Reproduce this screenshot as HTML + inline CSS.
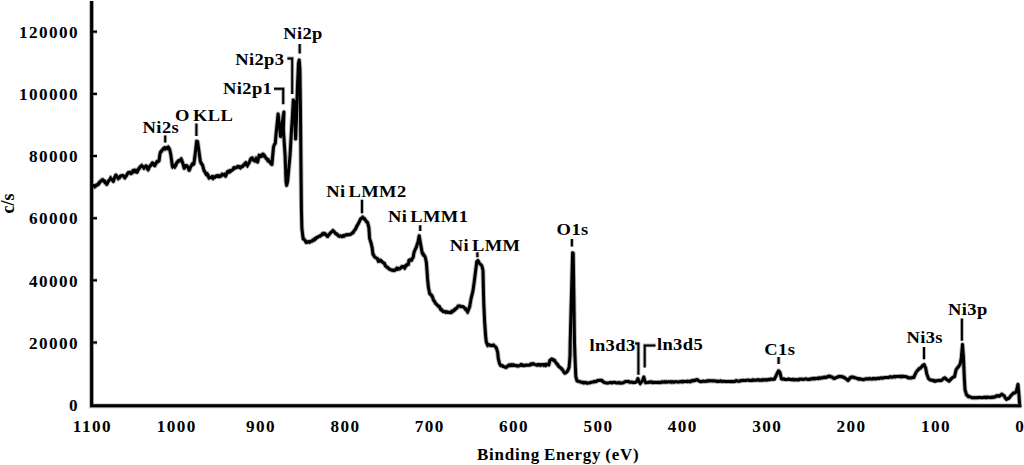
<!DOCTYPE html>
<html><head><meta charset="utf-8"><title>XPS spectrum</title>
<style>
html,body{margin:0;padding:0;background:#fff;overflow:hidden}
svg{display:block}
text{font-family:"Liberation Serif","Times New Roman",serif;font-weight:bold;font-size:18px;fill:#000}
text.y{font-size:18px;letter-spacing:0px}
text.n{font-size:16.5px;letter-spacing:1.37px}
text.a{font-size:17px;letter-spacing:0.35px;word-spacing:-1.8px}
text.t{font-size:17px;letter-spacing:0.75px;word-spacing:-1px}
</style></head><body>
<svg width="1024" height="465" viewBox="0 0 1024 465">
<g opacity="0.3" transform="translate(0,0)">
<path d="M91.6 1 V405.8 H1021.5" fill="none" stroke="#000" stroke-width="4.80"/>
<line x1="91.6" y1="342.5" x2="97" y2="342.5" stroke="#000" stroke-width="3.80"/>
<line x1="91.6" y1="280.3" x2="97" y2="280.3" stroke="#000" stroke-width="3.80"/>
<line x1="91.6" y1="218.2" x2="97" y2="218.2" stroke="#000" stroke-width="3.80"/>
<line x1="91.6" y1="156.0" x2="97" y2="156.0" stroke="#000" stroke-width="3.80"/>
<line x1="91.6" y1="93.9" x2="97" y2="93.9" stroke="#000" stroke-width="3.80"/>
<line x1="91.6" y1="31.7" x2="97" y2="31.7" stroke="#000" stroke-width="3.80"/>
<path d="M165.2 135.4 V142.5 M196.4 123.6 V136 M274 88.8 H283.2 V104.2 M287.4 58.4 H292.2 V93.9 M299.7 44 V53.5 M362 199.7 V213.2 M420.2 225.3 V231.1 M477.4 252.3 V257.3 M571.9 238.9 V246.6 M635.2 343.6 H638.4 V374.7 M644.7 367.4 V345.4 H655.5 M778.6 356.9 V364 M924 347 V359.3 M961.9 318.5 V340.7" fill="none" stroke="#000" stroke-width="3.80"/>
<path d="M92.8 185.7 L94.2 185.6 L95.5 186.2 L96.6 184.8 L97.7 185.0 L98.8 184.0 L99.6 181.9 L100.4 181.4 L101.5 181.1 L102.5 180.4 L103.6 180.3 L104.4 180.9 L105.2 183.0 L106.3 183.0 L107.4 183.0 L108.5 180.7 L109.5 180.0 L110.6 178.7 L111.9 179.3 L113.3 181.4 L114.7 177.5 L116.0 175.0 L117.0 176.5 L118.1 178.2 L119.2 178.1 L120.2 176.2 L121.3 175.7 L122.4 175.5 L123.8 176.3 L125.1 176.6 L126.2 176.1 L127.2 174.2 L128.3 172.8 L129.7 172.9 L131.0 173.3 L132.1 173.1 L133.1 170.4 L134.2 170.1 L135.6 171.8 L136.9 172.3 L138.2 169.5 L139.6 167.4 L140.7 166.2 L141.8 166.3 L142.9 166.5 L143.9 168.0 L145.2 166.8 L146.6 166.3 L147.4 168.5 L148.2 169.6 L149.3 167.1 L150.4 165.8 L151.7 164.6 L153.0 163.1 L153.8 164.7 L154.7 165.8 L155.8 163.7 L156.8 162.0 L157.9 161.6 L159.0 161.0 L160.0 153.5 L160.8 151.7 L161.6 151.5 L162.4 149.7 L163.2 149.5 L163.8 148.2 L164.5 148.0 L165.2 148.2 L166.0 147.8 L166.8 147.7 L167.5 147.8 L168.3 147.3 L169.0 148.1 L169.7 149.6 L170.8 154.7 L171.8 162.3 L172.4 166.6 L173.2 166.5 L174.0 166.0 L174.8 165.9 L175.6 166.0 L176.7 162.8 L177.8 161.3 L178.8 160.6 L179.6 161.1 L180.4 160.6 L181.5 159.6 L182.6 162.8 L184.2 168.2 L185.0 167.2 L185.8 165.5 L186.9 165.8 L188.0 167.1 L189.0 170.3 L189.8 168.8 L190.6 167.1 L191.4 165.5 L192.3 163.9 L193.1 164.6 L193.9 163.9 L195.5 151.5 L196.6 141.2 L197.6 141.7 L198.7 149.4 L200.3 161.2 L201.4 163.5 L202.5 165.0 L204.1 170.9 L204.9 171.8 L205.7 173.5 L206.5 174.7 L207.3 174.1 L208.1 175.0 L208.9 177.3 L210.2 177.4 L211.6 177.8 L212.7 178.1 L213.7 176.8 L214.8 177.3 L215.9 176.5 L217.0 175.7 L218.1 175.4 L219.1 176.8 L220.4 176.3 L221.8 175.2 L223.2 175.1 L224.5 174.1 L225.6 176.2 L226.6 173.9 L227.7 171.4 L228.8 172.3 L229.9 171.9 L230.9 170.8 L232.0 170.3 L233.1 169.6 L234.2 168.2 L235.2 168.1 L236.3 167.6 L237.8 167.1 L239.3 166.4 L240.4 166.6 L241.5 166.9 L242.6 166.5 L243.6 164.8 L244.7 165.1 L245.8 163.7 L246.6 164.5 L247.4 165.3 L248.4 163.7 L249.5 161.6 L250.8 158.9 L252.2 157.8 L253.0 159.5 L253.8 160.5 L254.9 160.0 L256.0 158.9 L256.8 161.4 L257.6 162.1 L259.2 155.1 L260.2 156.2 L261.3 156.2 L262.1 154.7 L263.0 154.0 L264.1 155.1 L265.1 156.7 L266.2 158.4 L267.3 159.4 L268.1 159.3 L268.9 161.0 L269.7 161.7 L270.5 162.6 L271.2 163.0 L271.9 164.5 L273.5 147.0 L274.4 144.5 L275.3 143.3 L275.9 135.8 L277.0 125.0 L278.1 114.0 L279.3 125.0 L280.6 136.6 L282.3 122.0 L283.9 112.1 L283.6 122.0 L283.4 130.0 L285.1 155.7 L286.0 181.5 L286.6 185.5 L287.6 181.5 L290.0 155.7 L291.5 130.0 L292.5 115.0 L293.3 100.0 L294.0 101.0 L294.6 115.0 L295.2 130.0 L295.6 139.0 L296.5 118.0 L297.5 85.0 L298.5 63.0 L299.2 60.0 L299.9 69.0 L300.4 105.0 L300.9 160.0 L301.4 210.0 L301.9 228.7 L303.2 239.0 L304.5 239.7 L305.8 241.6 L307.1 242.2 L308.4 241.5 L309.7 242.2 L310.8 241.2 L311.8 240.8 L312.9 240.3 L314.2 240.2 L315.5 239.0 L316.6 237.5 L317.6 237.2 L318.7 236.4 L320.0 235.8 L321.3 235.1 L322.6 234.7 L323.9 233.2 L324.9 234.3 L325.8 234.5 L326.8 236.0 L327.7 236.4 L328.7 234.8 L329.7 233.8 L330.6 232.7 L331.6 231.9 L332.9 230.6 L333.9 231.4 L334.8 232.5 L335.8 233.7 L336.8 233.8 L338.1 235.7 L339.4 236.4 L340.6 235.9 L341.9 236.4 L343.2 235.5 L344.5 235.5 L345.8 234.9 L347.1 235.1 L348.2 234.5 L349.2 234.7 L350.3 234.5 L351.6 233.6 L352.9 232.5 L354.2 230.6 L355.5 229.3 L356.8 226.1 L358.1 224.2 L359.4 221.5 L360.6 219.0 L361.6 218.2 L362.6 217.7 L363.9 218.8 L365.2 219.7 L366.4 221.7 L367.6 222.5 L368.9 227.9 L369.6 238.5 L371.2 243.5 L372.1 247.5 L372.9 254.0 L373.9 255.8 L374.8 257.0 L376.2 257.9 L377.6 258.8 L378.3 261.3 L379.4 260.8 L380.4 260.0 L381.7 261.5 L383.0 262.6 L384.3 263.4 L385.5 266.1 L386.8 267.0 L388.1 268.2 L389.3 269.2 L390.6 269.5 L391.8 270.3 L393.0 270.1 L394.2 270.6 L395.4 269.5 L396.6 268.6 L398.1 268.2 L399.6 269.0 L400.8 267.9 L401.9 266.5 L403.3 266.6 L404.7 268.0 L405.6 265.6 L407.0 264.5 L408.4 264.6 L408.9 260.3 L410.3 259.7 L411.7 260.0 L412.4 258.2 L413.2 257.3 L413.9 252.8 L415.0 249.9 L416.2 247.5 L418.1 241.5 L419.2 235.8 L420.7 244.5 L422.2 253.0 L423.1 253.6 L424.0 255.5 L424.6 255.8 L425.3 257.5 L426.4 262.6 L427.1 272.0 L427.5 278.2 L428.4 287.3 L429.7 293.7 L431.0 294.5 L432.3 296.3 L433.5 300.2 L434.5 301.2 L435.5 303.4 L436.8 304.5 L438.1 306.0 L439.1 306.3 L440.0 307.9 L440.6 309.4 L441.3 309.8 L442.6 311.0 L443.9 311.8 L445.0 311.5 L446.0 311.9 L447.1 312.4 L448.4 312.2 L449.7 312.2 L451.0 312.4 L452.2 310.9 L453.5 310.5 L454.8 310.0 L456.1 308.5 L457.1 307.9 L458.1 306.0 L459.1 306.0 L460.0 306.0 L460.9 306.3 L461.9 306.6 L463.2 306.7 L464.5 307.9 L465.6 308.6 L466.6 310.3 L467.7 311.8 L469.7 306.6 L471.0 298.9 L472.9 291.1 L474.2 282.1 L475.5 271.8 L476.8 261.5 L477.5 260.8 L478.1 260.8 L479.1 262.9 L480.0 264.0 L480.9 264.5 L481.9 266.0 L483.0 270.5 L483.2 280.8 L483.5 293.7 L483.9 306.6 L484.7 322.9 L485.6 335.8 L486.3 342.0 L487.5 345.0 L488.8 344.4 L490.0 345.2 L491.5 345.7 L493.0 345.0 L494.0 345.8 L495.0 346.5 L495.8 347.0 L496.5 348.5 L497.6 352.0 L498.3 358.5 L499.5 363.5 L500.3 364.7 L501.1 365.7 L502.1 365.4 L503.0 366.5 L504.5 366.8 L506.0 367.0 L506.9 367.0 L507.9 365.7 L508.9 365.8 L509.8 364.8 L511.1 365.3 L512.4 364.9 L513.7 365.5 L515.0 365.5 L516.3 365.4 L517.6 366.1 L518.9 366.0 L520.2 365.3 L521.5 364.8 L522.8 365.6 L524.0 365.7 L525.3 365.3 L526.6 365.0 L527.9 365.2 L529.2 365.2 L530.5 365.0 L531.8 364.4 L533.1 363.5 L534.4 364.4 L535.6 364.8 L536.9 364.8 L538.2 365.1 L539.5 364.4 L540.8 364.8 L542.1 364.8 L543.4 364.6 L544.7 364.8 L546.1 364.2 L547.4 364.3 L548.8 365.0 L549.8 360.5 L551.0 359.5 L552.1 359.2 L553.3 359.6 L554.1 360.1 L555.0 361.2 L556.3 363.3 L557.6 364.8 L558.9 366.7 L560.2 367.4 L561.5 368.7 L562.7 370.0 L563.8 372.0 L564.8 373.2 L566.1 372.7 L567.4 371.3 L568.2 369.8 L569.1 367.4 L570.0 355.8 L570.2 342.9 L570.8 320.0 L571.6 290.0 L572.6 252.8 L573.2 253.2 L573.9 300.0 L574.5 342.9 L575.2 362.3 L575.8 376.5 L577.1 381.0 L578.4 381.3 L579.7 381.6 L581.0 382.3 L582.3 382.2 L583.5 382.3 L584.8 382.5 L586.1 382.9 L587.4 382.9 L588.7 383.0 L590.0 382.8 L591.3 382.3 L592.6 382.0 L593.9 382.0 L595.2 381.6 L596.5 381.4 L597.7 380.4 L599.0 380.3 L600.3 380.4 L601.6 380.3 L602.9 381.7 L604.2 382.3 L605.5 382.8 L606.8 382.9 L608.1 382.9 L609.4 382.8 L610.7 382.4 L611.9 382.8 L613.2 382.3 L614.5 382.3 L615.8 382.7 L617.1 383.0 L618.4 382.6 L619.7 382.7 L621.0 382.9 L622.3 383.0 L623.6 382.6 L624.8 381.8 L626.1 381.5 L627.4 381.6 L628.5 381.4 L629.6 382.3 L630.7 382.3 L631.8 381.9 L632.9 382.6 L634.0 382.5 L635.3 382.4 L636.6 381.5 L637.9 378.6 L639.0 381.8 L640.2 383.4 L641.4 382.1 L642.6 380.5 L643.8 377.0 L644.8 380.8 L645.6 382.8 L646.7 382.5 L647.8 382.6 L648.9 382.1 L650.0 382.3 L651.2 381.9 L652.5 382.7 L653.8 382.4 L655.0 382.3 L656.2 382.6 L657.5 382.2 L658.8 382.5 L660.0 382.2 L661.2 382.5 L662.5 381.9 L663.8 381.9 L665.0 381.9 L666.2 381.8 L667.5 382.1 L668.8 381.8 L670.0 382.0 L671.2 381.9 L672.5 381.6 L673.8 382.3 L675.0 381.7 L676.2 381.8 L677.5 381.9 L678.8 382.1 L680.0 381.7 L681.2 381.6 L682.5 382.0 L683.8 381.6 L685.0 381.6 L686.2 381.6 L687.5 381.1 L688.8 381.5 L690.0 381.5 L691.2 380.9 L692.5 380.4 L693.7 380.8 L694.9 379.9 L696.2 379.9 L697.4 379.6 L698.7 380.8 L700.0 381.5 L701.2 381.5 L702.5 381.2 L703.7 381.3 L705.0 381.3 L706.2 381.4 L707.5 380.8 L708.7 381.1 L710.0 380.8 L711.2 380.7 L712.5 381.1 L713.7 380.8 L714.9 380.9 L716.2 381.0 L717.4 381.2 L718.6 381.4 L719.9 381.1 L721.1 381.3 L722.4 381.3 L723.6 381.3 L724.8 381.5 L726.1 381.4 L727.3 381.5 L728.5 381.5 L729.8 381.4 L731.0 381.7 L732.3 381.4 L733.5 381.5 L734.8 381.5 L736.0 380.8 L737.3 381.0 L738.5 381.3 L739.8 381.2 L741.0 380.8 L742.2 380.4 L743.5 380.3 L744.7 380.6 L746.0 380.2 L747.2 380.2 L748.5 380.0 L749.7 380.5 L751.0 380.5 L752.2 380.6 L753.5 379.9 L754.7 380.1 L755.9 380.2 L757.2 380.2 L758.4 379.6 L759.7 380.3 L760.9 380.3 L762.2 379.6 L763.4 380.2 L764.7 379.6 L765.9 379.7 L767.2 380.1 L768.4 379.6 L769.6 379.8 L770.8 379.1 L772.1 379.3 L773.3 379.3 L774.5 379.2 L775.5 376.8 L776.6 374.6 L777.6 372.4 L778.6 370.8 L779.3 371.5 L780.0 372.6 L781.4 378.8 L782.5 379.2 L783.7 378.8 L784.8 379.4 L786.0 379.5 L787.2 379.4 L788.4 379.0 L789.6 379.3 L790.9 379.6 L792.1 379.5 L793.3 379.2 L794.5 380.0 L795.7 379.6 L796.9 379.8 L798.2 379.9 L799.4 379.1 L800.7 379.2 L801.9 379.0 L803.2 379.6 L804.4 379.1 L805.7 378.9 L806.9 379.1 L808.2 379.5 L809.4 379.1 L810.6 379.3 L811.9 378.6 L813.1 378.4 L814.3 379.0 L815.6 378.6 L816.8 378.6 L818.1 377.9 L819.3 377.8 L820.5 378.2 L821.8 377.9 L823.0 377.8 L824.2 377.1 L825.3 377.7 L826.5 377.1 L827.7 377.0 L828.8 376.1 L830.0 376.2 L831.1 377.1 L832.2 377.0 L833.3 378.3 L834.4 378.5 L835.5 377.9 L836.7 377.2 L837.9 376.8 L839.0 376.2 L840.1 376.8 L841.1 376.3 L842.2 376.7 L843.6 377.0 L845.0 378.0 L846.5 379.2 L848.0 380.4 L849.1 379.0 L850.1 377.8 L851.2 377.0 L852.4 377.0 L853.7 377.2 L854.9 377.7 L856.2 378.1 L857.4 378.6 L858.5 378.6 L859.6 379.2 L860.7 379.0 L861.8 379.4 L862.9 379.6 L864.1 379.2 L865.2 379.2 L866.4 378.8 L867.6 378.9 L868.7 378.6 L869.9 378.9 L871.1 379.1 L872.2 378.8 L873.4 378.5 L874.6 378.7 L875.7 379.0 L876.9 378.6 L878.1 378.1 L879.2 378.6 L880.4 378.1 L881.6 378.1 L882.7 378.2 L883.9 377.8 L885.1 377.5 L886.2 377.5 L887.4 377.5 L888.6 377.6 L889.7 376.8 L890.9 376.8 L892.1 377.1 L893.2 376.9 L894.4 376.8 L895.6 376.6 L896.7 376.5 L897.9 376.6 L899.1 376.2 L900.2 376.3 L901.4 376.2 L902.6 376.8 L903.7 376.4 L904.9 376.6 L906.0 376.6 L907.0 376.9 L908.0 377.9 L909.1 377.9 L910.3 378.1 L911.5 377.8 L912.7 377.3 L913.9 377.4 L914.6 375.5 L915.3 374.0 L916.1 372.3 L917.0 371.0 L917.8 370.2 L918.5 369.5 L919.5 368.4 L920.5 368.0 L921.4 367.0 L922.3 366.0 L923.2 365.1 L924.1 364.6 L924.9 366.6 L925.6 367.7 L926.8 374.0 L928.5 378.5 L929.8 379.7 L931.0 380.0 L932.1 380.3 L933.3 380.3 L934.5 381.2 L935.6 381.0 L936.7 380.7 L937.8 380.7 L939.0 380.3 L940.1 380.5 L941.2 380.5 L942.4 379.6 L943.5 378.7 L944.7 377.8 L945.8 378.5 L946.8 379.8 L948.0 380.5 L949.2 381.2 L950.7 379.1 L952.2 377.8 L953.4 377.1 L954.5 376.8 L956.0 370.1 L957.1 368.2 L958.3 367.1 L959.2 365.5 L960.2 364.1 L961.3 358.0 L962.5 344.5 L963.5 358.0 L964.3 377.6 L965.0 389.6 L966.5 394.9 L967.6 395.4 L968.8 396.8 L970.1 396.7 L971.3 397.4 L972.6 397.9 L973.8 397.6 L975.1 397.8 L976.3 397.7 L977.5 397.8 L978.8 397.6 L980.0 397.4 L981.3 397.6 L982.5 397.7 L983.8 397.3 L985.1 397.2 L986.3 397.8 L987.6 397.4 L988.8 397.1 L990.0 397.6 L991.2 397.5 L992.4 397.0 L993.6 397.4 L995.1 397.0 L996.6 395.9 L998.1 396.3 L999.6 395.9 L1000.8 395.1 L1001.9 394.1 L1003.0 395.1 L1004.1 395.6 L1005.2 397.8 L1006.4 399.4 L1007.5 398.7 L1008.6 398.6 L1009.8 397.1 L1010.9 395.6 L1012.0 394.5 L1013.2 393.4 L1014.7 393.0 L1016.2 391.9 L1018.0 384.4 L1018.9 394.1 L1019.5 403.2" fill="none" stroke="#000" stroke-width="4.80" stroke-linejoin="round" stroke-linecap="round"/>
<path d="M92.8 185.5 L93.7 186.1 L94.6 188.0 L95.5 186.0 L96.3 185.7 L97.2 185.5 L98.0 183.1 L98.8 184.1 L99.6 183.3 L100.4 182.7 L101.2 179.3 L102.0 179.9 L102.8 178.7 L103.6 181.7 L104.4 182.5 L105.2 180.9 L106.3 185.2 L107.4 185.1 L108.2 182.6 L109.0 181.4 L109.8 178.2 L110.6 176.5 L111.5 179.7 L112.4 178.5 L113.3 180.0 L114.2 178.1 L115.1 175.0 L116.0 174.8 L117.0 176.3 L118.1 179.8 L119.0 177.7 L119.8 177.8 L120.7 176.6 L121.5 176.8 L122.4 175.3 L123.3 174.8 L124.2 178.5 L125.1 178.9 L125.9 177.2 L126.7 175.7 L127.5 172.9 L128.3 171.6 L129.2 172.0 L130.1 171.2 L131.0 174.5 L131.8 172.0 L132.6 173.3 L133.4 170.4 L134.2 172.2 L135.1 172.4 L136.0 169.3 L136.9 171.0 L137.8 172.6 L138.7 168.9 L139.6 169.6 L140.7 166.4 L141.8 164.3 L142.9 167.7 L143.9 169.3 L144.8 166.4 L145.7 165.0 L146.6 165.5 L147.4 170.1 L148.2 170.8 L149.3 165.9 L150.4 164.6 L151.3 163.1 L152.1 162.0 L153.0 164.5 L153.8 163.0 L154.7 166.1 L155.8 163.7 L156.8 160.6 L157.9 162.6 M160.0 151.8 L160.8 153.2 L161.6 149.7 L162.4 150.1 L163.2 148.2 L164.5 146.9 L165.2 150.1 L166.0 149.2 L166.8 146.9 L167.5 149.6 L168.3 146.0 L169.0 148.0 M172.4 168.2 L173.2 167.0 L174.0 164.2 L174.8 168.3 L175.6 164.7 L176.7 161.7 L177.8 163.0 L178.8 159.8 L179.6 159.7 L180.4 158.6 L181.5 157.7 M184.2 168.6 L185.0 165.7 L185.8 166.0 L186.9 165.7 M189.0 170.1 L189.8 170.8 L190.6 167.0 L191.4 165.8 L192.3 165.6 L193.1 162.4 M200.3 163.1 L201.4 164.6 M204.1 169.7 L204.9 170.8 L205.7 174.6 L206.5 175.8 L207.3 172.7 L208.1 177.8 L208.9 179.1 L209.8 177.9 L210.7 177.3 L211.6 176.0 L212.4 175.6 L213.2 179.7 L214.0 176.2 L214.8 178.2 L215.9 175.4 L217.0 177.2 L218.1 176.7 L219.1 175.8 L220.0 174.8 L220.9 176.7 L221.8 173.2 L222.7 173.6 L223.6 174.7 L224.5 175.7 L225.6 176.7 L226.6 172.8 L227.7 173.3 L228.8 170.3 L229.9 169.7 L230.9 170.0 L232.0 170.1 L233.1 167.2 L234.2 166.7 L235.2 167.3 L236.3 167.9 L237.3 165.5 L238.3 166.2 L239.3 168.2 L240.4 168.9 L241.5 167.6 L242.6 166.7 L243.6 165.2 L244.7 162.6 L245.8 161.6 L246.6 162.3 L247.4 167.2 L248.4 164.4 L249.5 163.7 L250.4 158.1 L251.3 159.7 L252.2 157.7 L253.0 160.2 L253.8 159.7 L254.9 162.0 L256.0 156.9 L256.8 160.7 M259.2 156.2 L260.2 157.5 L261.3 157.3 L262.1 156.0 L263.0 155.3 L264.1 157.3 L265.1 156.0 L266.2 158.9 L267.3 161.2 L268.1 161.9 L268.9 160.6 L269.7 163.1 L270.5 164.3 L271.2 163.9 M273.5 147.6 L274.4 144.6 M303.2 239.4 L304.1 238.4 L304.9 241.2 L305.8 243.3 L306.8 243.0 L307.8 242.7 L308.7 241.7 L309.7 243.0 L310.5 242.0 L311.3 241.0 L312.1 241.9 L312.9 238.9 L313.8 240.7 L314.6 237.8 L315.5 239.3 L316.3 238.3 L317.1 236.8 L317.9 237.7 L318.7 236.4 L319.6 236.4 L320.4 237.0 L321.3 234.3 L322.2 232.8 L323.0 233.2 L323.9 233.8 L324.9 232.8 L325.8 233.4 L326.8 236.8 L327.7 236.9 L328.7 234.9 L329.7 235.1 L330.6 232.3 L331.6 232.5 L332.9 229.6 L333.9 231.3 L334.8 233.5 L335.8 234.6 L336.8 235.1 L337.7 234.3 L338.5 235.8 L339.4 235.8 L340.2 235.2 L341.1 236.4 L341.9 237.5 L342.8 237.3 L343.6 236.5 L344.5 237.0 L345.4 234.6 L346.2 234.1 L347.1 234.9 L347.9 234.2 L348.7 233.8 L349.5 234.4 L350.3 234.9 L351.2 233.8 L352.0 232.5 L352.9 233.7 L353.8 233.1 L354.6 230.2 L355.5 227.9 L356.4 226.0 L357.2 227.2 L358.1 222.6 L358.9 223.2 L359.8 221.0 L360.6 218.4 L361.6 219.3 L362.6 216.1 L363.5 217.1 L364.3 218.9 L365.2 218.1 L366.0 221.8 L366.8 220.7 M372.9 252.8 L373.9 254.0 L374.8 257.4 L375.7 257.4 L376.7 258.6 M378.3 261.8 L379.4 261.7 L380.4 261.6 L381.3 261.5 L382.1 260.7 L383.0 262.5 L383.9 262.6 L384.9 263.1 L385.9 265.8 L386.8 267.7 L387.8 266.5 L388.7 267.5 L389.7 268.4 L390.6 270.2 L391.5 269.8 L392.4 270.4 L393.3 271.2 L394.2 270.2 L395.0 270.9 L395.8 270.6 L396.6 267.2 L397.6 270.2 L398.6 269.6 L399.6 267.7 L400.4 268.0 L401.1 267.8 L401.9 267.9 L402.8 266.6 L403.8 267.7 L404.7 269.3 L405.6 266.6 L406.5 266.8 L407.5 264.8 M408.9 260.8 L409.8 259.2 L410.8 260.9 L411.7 261.1 L412.4 259.1 M413.9 253.5 L414.7 250.1 L415.4 250.6 M422.2 254.6 L423.1 255.9 L424.0 255.6 M429.7 294.7 L430.6 294.0 L431.4 296.8 M433.5 301.4 L434.5 301.3 L435.5 302.0 L436.4 304.1 L437.2 305.3 L438.1 306.9 L439.1 306.9 L440.0 306.3 L441.3 310.9 L442.2 309.0 L443.0 312.2 L443.9 310.7 L444.7 311.4 L445.5 313.1 L446.3 311.0 L447.1 311.2 L448.1 312.5 L449.1 313.2 L450.0 313.6 L451.0 313.0 L451.8 313.3 L452.7 311.1 L453.5 312.0 L454.4 308.4 L455.2 308.2 L456.1 308.6 L457.1 306.5 L458.1 306.8 L459.1 306.5 L460.0 306.1 L460.9 307.5 L461.9 306.8 L462.8 306.4 L463.6 307.1 L464.5 309.1 L465.3 310.2 L466.1 308.9 L466.9 312.0 L467.7 313.4 L468.7 309.3 M476.8 261.7 L478.1 259.8 L479.1 262.5 L480.0 264.0 L480.9 265.4 M486.3 340.4 L487.5 346.6 L488.3 345.1 L489.2 344.8 L490.0 346.2 L491.0 345.3 L492.0 345.0 L493.0 345.6 L494.0 344.3 L495.0 346.6 L495.8 347.2 M499.5 365.1 L500.3 366.0 L501.1 364.9 L502.1 366.0 L503.0 365.2 L504.0 366.4 L505.0 367.9 L506.0 368.4 L506.9 366.3 L507.9 365.1 L508.9 364.2 L509.8 365.2 L510.8 366.4 L511.8 363.9 L512.7 366.3 L513.7 363.9 L514.7 364.6 L515.7 364.9 L516.6 366.6 L517.6 365.5 L518.6 365.3 L519.5 365.9 L520.5 363.8 L521.5 365.6 L522.3 363.8 L523.2 365.4 L524.0 364.9 L525.0 364.5 L526.0 365.6 L526.9 365.1 L527.9 364.8 L528.8 364.6 L529.6 364.7 L530.5 363.2 L531.4 363.1 L532.2 364.2 L533.1 364.0 L534.0 363.9 L535.0 365.3 L536.0 364.9 L536.9 366.0 L537.9 363.9 L538.8 365.6 L539.8 365.9 L540.8 366.2 L541.8 364.2 L542.8 364.2 L543.7 366.2 L544.7 363.8 L545.5 366.5 L546.3 366.2 L547.2 363.7 L548.0 364.1 M549.8 361.3 L551.0 358.7 L551.8 358.2 L552.5 360.7 L553.3 359.3 L554.1 361.4 L555.0 359.9 L555.9 362.1 L556.7 364.2 L557.6 363.2 L558.5 364.6 L559.3 367.2 L560.2 368.4 L561.0 369.4 L561.9 368.2 L562.7 370.0 L563.8 372.2 L564.8 373.2 L565.7 373.0 L566.5 371.2 L567.4 370.3 L568.2 368.4 M577.1 381.1 L578.1 381.4 L579.0 381.8 L580.0 381.1 L581.0 381.5 L581.9 381.7 L582.7 383.3 L583.5 383.8 L584.4 383.7 L585.2 381.8 L586.1 381.8 L587.0 383.9 L587.8 382.6 L588.7 383.2 L589.6 382.1 L590.4 382.3 L591.3 382.3 L592.3 382.0 L593.2 382.2 L594.2 380.6 L595.2 382.1 L596.2 382.1 L597.1 380.2 L598.0 380.5 L599.0 380.9 L599.9 380.1 L600.7 379.6 L601.6 379.5 L602.5 381.0 L603.3 380.5 L604.2 383.2 L605.2 383.2 L606.2 383.1 L607.1 383.6 L608.1 383.2 L609.0 382.6 L609.9 383.0 L610.8 382.7 L611.8 383.7 L612.7 383.2 L613.6 381.8 L614.5 383.3 L615.4 383.0 L616.4 383.1 L617.3 383.3 L618.2 382.4 L619.1 383.7 L620.1 383.7 L621.0 383.4 L621.9 383.4 L622.8 383.2 L623.7 382.1 L624.7 382.7 L625.6 380.9 L626.5 381.4 L627.4 381.5 L628.3 380.6 L629.3 381.5 L630.2 382.3 L631.2 382.4 L632.1 381.6 L633.1 383.4 L634.0 382.9 L634.9 381.8 L635.7 382.2 L636.6 381.7 L637.9 378.7 L639.0 381.5 L640.2 384.6 L641.0 382.8 L641.8 381.9 L642.6 381.1 M644.8 382.0 L645.6 381.7 L646.5 383.0 L647.4 383.2 L648.2 381.9 L649.1 382.2 L650.0 381.2 L650.9 381.6 L651.8 382.0 L652.7 381.3 L653.6 381.7 L654.5 383.2 L655.5 382.4 L656.4 382.3 L657.3 383.3 L658.2 382.4 L659.1 383.4 L660.0 382.5 L660.9 382.9 L661.8 381.1 L662.7 382.4 L663.6 382.7 L664.5 381.0 L665.5 383.1 L666.4 381.3 L667.3 382.0 L668.2 381.2 L669.1 382.0 L670.0 382.3 L670.9 380.9 L671.8 383.0 L672.7 381.7 L673.6 382.0 L674.5 382.1 L675.5 381.5 L676.4 381.3 L677.3 382.2 L678.2 381.9 L679.1 381.2 L680.0 382.2 L680.9 381.2 L681.8 380.5 L682.7 381.0 L683.6 380.5 L684.5 380.8 L685.5 382.2 L686.4 381.3 L687.3 382.5 L688.2 382.1 L689.1 380.4 L690.0 382.7 L690.9 382.3 L691.9 380.0 L692.8 381.8 L693.7 380.4 L694.6 380.3 L695.5 381.2 L696.5 379.2 L697.4 379.7 L698.3 381.3 L699.1 381.4 L700.0 381.4 L700.9 382.6 L701.8 382.2 L702.7 381.6 L703.7 380.4 L704.6 381.6 L705.5 381.1 L706.4 380.5 L707.3 380.1 L708.2 381.1 L709.1 380.1 L710.0 380.8 L711.0 381.3 L711.9 380.8 L712.8 380.3 L713.7 381.0 L714.6 380.7 L715.5 381.6 L716.4 381.0 L717.3 382.2 L718.2 382.1 L719.1 381.6 L720.0 380.5 L721.0 380.2 L721.9 382.2 L722.8 381.9 L723.7 381.6 L724.6 381.0 L725.5 380.9 L726.4 381.9 L727.3 381.7 L728.2 381.7 L729.1 381.7 L730.0 382.0 L731.0 380.6 L731.9 380.7 L732.8 382.4 L733.7 382.2 L734.6 382.0 L735.5 380.0 L736.4 380.0 L737.3 380.4 L738.3 380.8 L739.2 381.2 L740.1 379.9 L741.0 380.9 L741.9 379.7 L742.8 379.7 L743.7 381.1 L744.7 380.7 L745.6 380.9 L746.5 380.2 L747.4 380.4 L748.3 379.7 L749.2 380.0 L750.1 380.9 L751.0 381.1 L752.0 379.2 L752.9 379.3 L753.8 380.9 L754.7 380.4 L755.6 380.7 L756.5 379.3 L757.4 379.8 L758.4 379.4 L759.3 380.7 L760.2 379.6 L761.1 380.2 L762.0 381.0 L762.9 379.4 L763.8 379.9 L764.7 380.3 L765.7 380.7 L766.6 379.5 L767.5 379.3 L768.4 378.6 L769.3 380.4 L770.1 378.5 L771.0 378.4 L771.9 379.5 L772.8 379.3 L773.6 379.7 L774.5 378.7 L775.5 377.6 L776.6 373.6 L777.6 372.0 L778.6 371.2 L779.3 370.7 M781.4 378.3 L782.2 379.5 L783.1 379.6 L783.9 378.7 L784.8 378.5 L785.7 379.1 L786.6 380.0 L787.5 379.1 L788.4 378.5 L789.3 380.0 L790.2 379.7 L791.2 380.5 L792.1 380.6 L793.0 380.5 L793.9 379.4 L794.8 380.3 L795.7 379.1 L796.6 379.1 L797.5 379.3 L798.4 380.5 L799.4 380.4 L800.3 378.8 L801.2 379.1 L802.1 379.0 L803.0 379.0 L803.9 379.0 L804.8 379.0 L805.7 378.5 L806.7 379.4 L807.6 379.9 L808.5 379.2 L809.4 379.9 L810.3 379.2 L811.2 378.2 L812.1 379.5 L813.0 379.7 L813.9 378.1 L814.8 377.4 L815.7 378.5 L816.7 378.5 L817.6 378.5 L818.5 379.4 L819.4 378.5 L820.3 378.8 L821.2 376.9 L822.1 378.0 L823.0 378.5 L823.9 376.6 L824.8 376.4 L825.6 377.8 L826.5 378.0 L827.4 375.8 L828.2 376.9 L829.1 375.5 L830.0 376.8 L830.9 377.0 L831.8 376.5 L832.6 376.9 L833.5 378.7 L834.4 378.6 L835.3 378.7 L836.2 377.3 L837.2 376.7 L838.1 377.8 L839.0 376.6 L839.8 376.3 L840.6 376.5 L841.4 377.1 L842.2 377.2 L843.1 378.1 L844.1 377.4 L845.0 378.8 L846.0 379.2 L847.0 380.4 L848.0 381.1 L848.8 380.4 L849.6 379.6 L850.4 378.9 L851.2 377.3 L852.1 377.3 L853.0 378.0 L853.9 378.4 L854.7 377.7 L855.6 378.0 L856.5 377.5 L857.4 379.2 L858.3 379.9 L859.2 378.6 L860.1 378.3 L861.1 378.6 L862.0 379.3 L862.9 379.1 L863.8 380.6 L864.6 378.4 L865.5 378.9 L866.4 378.3 L867.3 379.5 L868.1 379.7 L869.0 378.2 L869.9 377.8 L870.8 378.8 L871.6 379.0 L872.5 379.8 L873.4 377.6 L874.3 377.8 L875.1 377.9 L876.0 378.0 L876.9 378.0 L877.8 379.0 L878.6 378.6 L879.5 377.6 L880.4 377.4 L881.3 377.6 L882.1 377.2 L883.0 378.5 L883.9 377.3 L884.8 377.8 L885.6 378.3 L886.5 377.4 L887.4 376.7 L888.3 378.1 L889.1 378.0 L890.0 376.5 L890.9 376.9 L891.8 377.9 L892.6 376.7 L893.5 376.1 L894.4 375.6 L895.3 377.7 L896.1 377.4 L897.0 376.3 L897.9 376.7 L898.8 376.6 L899.6 376.1 L900.5 377.8 L901.4 377.0 L902.3 376.0 L903.1 375.4 L904.0 376.5 L904.9 376.3 L905.7 377.6 L906.6 377.6 L907.4 377.6 L908.3 376.8 L909.1 377.1 L910.1 377.4 L911.0 377.1 L912.0 378.5 L912.9 377.5 L913.9 377.7 L914.6 376.9 L915.3 373.4 L916.1 372.6 L917.0 370.2 L917.8 370.9 L918.5 368.3 L919.5 369.5 L920.5 368.8 L921.4 367.8 L922.3 365.0 L923.2 364.7 L924.1 365.1 L924.9 365.2 M926.8 374.0 L927.6 376.2 L928.5 379.6 L929.3 379.2 L930.2 380.4 L931.0 379.5 L931.9 380.9 L932.8 380.2 L933.8 381.6 L934.7 379.8 L935.6 381.8 L936.5 380.2 L937.5 380.9 L938.4 380.8 L939.3 379.8 L940.3 381.4 L941.2 380.0 L942.1 379.4 L943.0 378.1 L943.8 378.0 L944.7 377.7 L945.8 379.3 L946.8 379.5 L947.6 380.7 L948.4 379.8 L949.2 380.9 L950.2 380.0 L951.2 380.1 L952.2 378.6 L953.0 377.8 L953.7 376.0 M956.0 369.8 L956.8 369.6 L957.5 367.5 L958.3 367.3 L959.2 365.5 M966.5 393.7 L967.3 396.7 L968.0 396.9 L968.8 396.1 L969.8 397.4 L970.7 396.8 L971.6 397.3 L972.6 398.0 L973.5 397.4 L974.5 397.4 L975.4 397.5 L976.3 398.1 L977.2 397.0 L978.1 396.8 L979.1 398.0 L980.0 397.0 L981.0 398.5 L981.9 397.6 L982.9 397.9 L983.8 397.0 L984.8 398.2 L985.7 396.4 L986.6 396.5 L987.6 396.4 L988.5 397.8 L989.3 397.9 L990.2 396.6 L991.0 397.2 L991.9 398.2 L992.7 397.6 L993.6 396.4 L994.6 396.2 L995.6 395.6 L996.6 395.0 L997.6 395.7 L998.6 394.9 L999.6 396.9 L1000.4 395.1 L1001.1 394.7 L1001.9 394.5 L1003.0 395.5 L1004.1 396.4 L1004.9 396.6 L1005.6 397.7 L1006.4 399.2 L1007.5 397.8 L1008.6 398.4 L1009.4 398.1 L1010.1 397.8 L1010.9 396.3 L1011.7 395.3 L1012.4 394.4 L1013.2 392.2 L1014.2 392.5 L1015.2 392.0" fill="none" stroke="#000" stroke-width="3.30" stroke-linejoin="round" stroke-linecap="round"/>
</g>
<path d="M91.6 1 V405.8 H1021.5" fill="none" stroke="#000" stroke-width="3"/>
<line x1="91.6" y1="342.5" x2="97" y2="342.5" stroke="#000" stroke-width="2"/>
<line x1="91.6" y1="280.3" x2="97" y2="280.3" stroke="#000" stroke-width="2"/>
<line x1="91.6" y1="218.2" x2="97" y2="218.2" stroke="#000" stroke-width="2"/>
<line x1="91.6" y1="156.0" x2="97" y2="156.0" stroke="#000" stroke-width="2"/>
<line x1="91.6" y1="93.9" x2="97" y2="93.9" stroke="#000" stroke-width="2"/>
<line x1="91.6" y1="31.7" x2="97" y2="31.7" stroke="#000" stroke-width="2"/>
<path d="M165.2 135.4 V142.5 M196.4 123.6 V136 M274 88.8 H283.2 V104.2 M287.4 58.4 H292.2 V93.9 M299.7 44 V53.5 M362 199.7 V213.2 M420.2 225.3 V231.1 M477.4 252.3 V257.3 M571.9 238.9 V246.6 M635.2 343.6 H638.4 V374.7 M644.7 367.4 V345.4 H655.5 M778.6 356.9 V364 M924 347 V359.3 M961.9 318.5 V340.7" fill="none" stroke="#000" stroke-width="2"/>
<path d="M92.8 185.7 L94.2 185.6 L95.5 186.2 L96.6 184.8 L97.7 185.0 L98.8 184.0 L99.6 181.9 L100.4 181.4 L101.5 181.1 L102.5 180.4 L103.6 180.3 L104.4 180.9 L105.2 183.0 L106.3 183.0 L107.4 183.0 L108.5 180.7 L109.5 180.0 L110.6 178.7 L111.9 179.3 L113.3 181.4 L114.7 177.5 L116.0 175.0 L117.0 176.5 L118.1 178.2 L119.2 178.1 L120.2 176.2 L121.3 175.7 L122.4 175.5 L123.8 176.3 L125.1 176.6 L126.2 176.1 L127.2 174.2 L128.3 172.8 L129.7 172.9 L131.0 173.3 L132.1 173.1 L133.1 170.4 L134.2 170.1 L135.6 171.8 L136.9 172.3 L138.2 169.5 L139.6 167.4 L140.7 166.2 L141.8 166.3 L142.9 166.5 L143.9 168.0 L145.2 166.8 L146.6 166.3 L147.4 168.5 L148.2 169.6 L149.3 167.1 L150.4 165.8 L151.7 164.6 L153.0 163.1 L153.8 164.7 L154.7 165.8 L155.8 163.7 L156.8 162.0 L157.9 161.6 L159.0 161.0 L160.0 153.5 L160.8 151.7 L161.6 151.5 L162.4 149.7 L163.2 149.5 L163.8 148.2 L164.5 148.0 L165.2 148.2 L166.0 147.8 L166.8 147.7 L167.5 147.8 L168.3 147.3 L169.0 148.1 L169.7 149.6 L170.8 154.7 L171.8 162.3 L172.4 166.6 L173.2 166.5 L174.0 166.0 L174.8 165.9 L175.6 166.0 L176.7 162.8 L177.8 161.3 L178.8 160.6 L179.6 161.1 L180.4 160.6 L181.5 159.6 L182.6 162.8 L184.2 168.2 L185.0 167.2 L185.8 165.5 L186.9 165.8 L188.0 167.1 L189.0 170.3 L189.8 168.8 L190.6 167.1 L191.4 165.5 L192.3 163.9 L193.1 164.6 L193.9 163.9 L195.5 151.5 L196.6 141.2 L197.6 141.7 L198.7 149.4 L200.3 161.2 L201.4 163.5 L202.5 165.0 L204.1 170.9 L204.9 171.8 L205.7 173.5 L206.5 174.7 L207.3 174.1 L208.1 175.0 L208.9 177.3 L210.2 177.4 L211.6 177.8 L212.7 178.1 L213.7 176.8 L214.8 177.3 L215.9 176.5 L217.0 175.7 L218.1 175.4 L219.1 176.8 L220.4 176.3 L221.8 175.2 L223.2 175.1 L224.5 174.1 L225.6 176.2 L226.6 173.9 L227.7 171.4 L228.8 172.3 L229.9 171.9 L230.9 170.8 L232.0 170.3 L233.1 169.6 L234.2 168.2 L235.2 168.1 L236.3 167.6 L237.8 167.1 L239.3 166.4 L240.4 166.6 L241.5 166.9 L242.6 166.5 L243.6 164.8 L244.7 165.1 L245.8 163.7 L246.6 164.5 L247.4 165.3 L248.4 163.7 L249.5 161.6 L250.8 158.9 L252.2 157.8 L253.0 159.5 L253.8 160.5 L254.9 160.0 L256.0 158.9 L256.8 161.4 L257.6 162.1 L259.2 155.1 L260.2 156.2 L261.3 156.2 L262.1 154.7 L263.0 154.0 L264.1 155.1 L265.1 156.7 L266.2 158.4 L267.3 159.4 L268.1 159.3 L268.9 161.0 L269.7 161.7 L270.5 162.6 L271.2 163.0 L271.9 164.5 L273.5 147.0 L274.4 144.5 L275.3 143.3 L275.9 135.8 L277.0 125.0 L278.1 114.0 L279.3 125.0 L280.6 136.6 L282.3 122.0 L283.9 112.1 L283.6 122.0 L283.4 130.0 L285.1 155.7 L286.0 181.5 L286.6 185.5 L287.6 181.5 L290.0 155.7 L291.5 130.0 L292.5 115.0 L293.3 100.0 L294.0 101.0 L294.6 115.0 L295.2 130.0 L295.6 139.0 L296.5 118.0 L297.5 85.0 L298.5 63.0 L299.2 60.0 L299.9 69.0 L300.4 105.0 L300.9 160.0 L301.4 210.0 L301.9 228.7 L303.2 239.0 L304.5 239.7 L305.8 241.6 L307.1 242.2 L308.4 241.5 L309.7 242.2 L310.8 241.2 L311.8 240.8 L312.9 240.3 L314.2 240.2 L315.5 239.0 L316.6 237.5 L317.6 237.2 L318.7 236.4 L320.0 235.8 L321.3 235.1 L322.6 234.7 L323.9 233.2 L324.9 234.3 L325.8 234.5 L326.8 236.0 L327.7 236.4 L328.7 234.8 L329.7 233.8 L330.6 232.7 L331.6 231.9 L332.9 230.6 L333.9 231.4 L334.8 232.5 L335.8 233.7 L336.8 233.8 L338.1 235.7 L339.4 236.4 L340.6 235.9 L341.9 236.4 L343.2 235.5 L344.5 235.5 L345.8 234.9 L347.1 235.1 L348.2 234.5 L349.2 234.7 L350.3 234.5 L351.6 233.6 L352.9 232.5 L354.2 230.6 L355.5 229.3 L356.8 226.1 L358.1 224.2 L359.4 221.5 L360.6 219.0 L361.6 218.2 L362.6 217.7 L363.9 218.8 L365.2 219.7 L366.4 221.7 L367.6 222.5 L368.9 227.9 L369.6 238.5 L371.2 243.5 L372.1 247.5 L372.9 254.0 L373.9 255.8 L374.8 257.0 L376.2 257.9 L377.6 258.8 L378.3 261.3 L379.4 260.8 L380.4 260.0 L381.7 261.5 L383.0 262.6 L384.3 263.4 L385.5 266.1 L386.8 267.0 L388.1 268.2 L389.3 269.2 L390.6 269.5 L391.8 270.3 L393.0 270.1 L394.2 270.6 L395.4 269.5 L396.6 268.6 L398.1 268.2 L399.6 269.0 L400.8 267.9 L401.9 266.5 L403.3 266.6 L404.7 268.0 L405.6 265.6 L407.0 264.5 L408.4 264.6 L408.9 260.3 L410.3 259.7 L411.7 260.0 L412.4 258.2 L413.2 257.3 L413.9 252.8 L415.0 249.9 L416.2 247.5 L418.1 241.5 L419.2 235.8 L420.7 244.5 L422.2 253.0 L423.1 253.6 L424.0 255.5 L424.6 255.8 L425.3 257.5 L426.4 262.6 L427.1 272.0 L427.5 278.2 L428.4 287.3 L429.7 293.7 L431.0 294.5 L432.3 296.3 L433.5 300.2 L434.5 301.2 L435.5 303.4 L436.8 304.5 L438.1 306.0 L439.1 306.3 L440.0 307.9 L440.6 309.4 L441.3 309.8 L442.6 311.0 L443.9 311.8 L445.0 311.5 L446.0 311.9 L447.1 312.4 L448.4 312.2 L449.7 312.2 L451.0 312.4 L452.2 310.9 L453.5 310.5 L454.8 310.0 L456.1 308.5 L457.1 307.9 L458.1 306.0 L459.1 306.0 L460.0 306.0 L460.9 306.3 L461.9 306.6 L463.2 306.7 L464.5 307.9 L465.6 308.6 L466.6 310.3 L467.7 311.8 L469.7 306.6 L471.0 298.9 L472.9 291.1 L474.2 282.1 L475.5 271.8 L476.8 261.5 L477.5 260.8 L478.1 260.8 L479.1 262.9 L480.0 264.0 L480.9 264.5 L481.9 266.0 L483.0 270.5 L483.2 280.8 L483.5 293.7 L483.9 306.6 L484.7 322.9 L485.6 335.8 L486.3 342.0 L487.5 345.0 L488.8 344.4 L490.0 345.2 L491.5 345.7 L493.0 345.0 L494.0 345.8 L495.0 346.5 L495.8 347.0 L496.5 348.5 L497.6 352.0 L498.3 358.5 L499.5 363.5 L500.3 364.7 L501.1 365.7 L502.1 365.4 L503.0 366.5 L504.5 366.8 L506.0 367.0 L506.9 367.0 L507.9 365.7 L508.9 365.8 L509.8 364.8 L511.1 365.3 L512.4 364.9 L513.7 365.5 L515.0 365.5 L516.3 365.4 L517.6 366.1 L518.9 366.0 L520.2 365.3 L521.5 364.8 L522.8 365.6 L524.0 365.7 L525.3 365.3 L526.6 365.0 L527.9 365.2 L529.2 365.2 L530.5 365.0 L531.8 364.4 L533.1 363.5 L534.4 364.4 L535.6 364.8 L536.9 364.8 L538.2 365.1 L539.5 364.4 L540.8 364.8 L542.1 364.8 L543.4 364.6 L544.7 364.8 L546.1 364.2 L547.4 364.3 L548.8 365.0 L549.8 360.5 L551.0 359.5 L552.1 359.2 L553.3 359.6 L554.1 360.1 L555.0 361.2 L556.3 363.3 L557.6 364.8 L558.9 366.7 L560.2 367.4 L561.5 368.7 L562.7 370.0 L563.8 372.0 L564.8 373.2 L566.1 372.7 L567.4 371.3 L568.2 369.8 L569.1 367.4 L570.0 355.8 L570.2 342.9 L570.8 320.0 L571.6 290.0 L572.6 252.8 L573.2 253.2 L573.9 300.0 L574.5 342.9 L575.2 362.3 L575.8 376.5 L577.1 381.0 L578.4 381.3 L579.7 381.6 L581.0 382.3 L582.3 382.2 L583.5 382.3 L584.8 382.5 L586.1 382.9 L587.4 382.9 L588.7 383.0 L590.0 382.8 L591.3 382.3 L592.6 382.0 L593.9 382.0 L595.2 381.6 L596.5 381.4 L597.7 380.4 L599.0 380.3 L600.3 380.4 L601.6 380.3 L602.9 381.7 L604.2 382.3 L605.5 382.8 L606.8 382.9 L608.1 382.9 L609.4 382.8 L610.7 382.4 L611.9 382.8 L613.2 382.3 L614.5 382.3 L615.8 382.7 L617.1 383.0 L618.4 382.6 L619.7 382.7 L621.0 382.9 L622.3 383.0 L623.6 382.6 L624.8 381.8 L626.1 381.5 L627.4 381.6 L628.5 381.4 L629.6 382.3 L630.7 382.3 L631.8 381.9 L632.9 382.6 L634.0 382.5 L635.3 382.4 L636.6 381.5 L637.9 378.6 L639.0 381.8 L640.2 383.4 L641.4 382.1 L642.6 380.5 L643.8 377.0 L644.8 380.8 L645.6 382.8 L646.7 382.5 L647.8 382.6 L648.9 382.1 L650.0 382.3 L651.2 381.9 L652.5 382.7 L653.8 382.4 L655.0 382.3 L656.2 382.6 L657.5 382.2 L658.8 382.5 L660.0 382.2 L661.2 382.5 L662.5 381.9 L663.8 381.9 L665.0 381.9 L666.2 381.8 L667.5 382.1 L668.8 381.8 L670.0 382.0 L671.2 381.9 L672.5 381.6 L673.8 382.3 L675.0 381.7 L676.2 381.8 L677.5 381.9 L678.8 382.1 L680.0 381.7 L681.2 381.6 L682.5 382.0 L683.8 381.6 L685.0 381.6 L686.2 381.6 L687.5 381.1 L688.8 381.5 L690.0 381.5 L691.2 380.9 L692.5 380.4 L693.7 380.8 L694.9 379.9 L696.2 379.9 L697.4 379.6 L698.7 380.8 L700.0 381.5 L701.2 381.5 L702.5 381.2 L703.7 381.3 L705.0 381.3 L706.2 381.4 L707.5 380.8 L708.7 381.1 L710.0 380.8 L711.2 380.7 L712.5 381.1 L713.7 380.8 L714.9 380.9 L716.2 381.0 L717.4 381.2 L718.6 381.4 L719.9 381.1 L721.1 381.3 L722.4 381.3 L723.6 381.3 L724.8 381.5 L726.1 381.4 L727.3 381.5 L728.5 381.5 L729.8 381.4 L731.0 381.7 L732.3 381.4 L733.5 381.5 L734.8 381.5 L736.0 380.8 L737.3 381.0 L738.5 381.3 L739.8 381.2 L741.0 380.8 L742.2 380.4 L743.5 380.3 L744.7 380.6 L746.0 380.2 L747.2 380.2 L748.5 380.0 L749.7 380.5 L751.0 380.5 L752.2 380.6 L753.5 379.9 L754.7 380.1 L755.9 380.2 L757.2 380.2 L758.4 379.6 L759.7 380.3 L760.9 380.3 L762.2 379.6 L763.4 380.2 L764.7 379.6 L765.9 379.7 L767.2 380.1 L768.4 379.6 L769.6 379.8 L770.8 379.1 L772.1 379.3 L773.3 379.3 L774.5 379.2 L775.5 376.8 L776.6 374.6 L777.6 372.4 L778.6 370.8 L779.3 371.5 L780.0 372.6 L781.4 378.8 L782.5 379.2 L783.7 378.8 L784.8 379.4 L786.0 379.5 L787.2 379.4 L788.4 379.0 L789.6 379.3 L790.9 379.6 L792.1 379.5 L793.3 379.2 L794.5 380.0 L795.7 379.6 L796.9 379.8 L798.2 379.9 L799.4 379.1 L800.7 379.2 L801.9 379.0 L803.2 379.6 L804.4 379.1 L805.7 378.9 L806.9 379.1 L808.2 379.5 L809.4 379.1 L810.6 379.3 L811.9 378.6 L813.1 378.4 L814.3 379.0 L815.6 378.6 L816.8 378.6 L818.1 377.9 L819.3 377.8 L820.5 378.2 L821.8 377.9 L823.0 377.8 L824.2 377.1 L825.3 377.7 L826.5 377.1 L827.7 377.0 L828.8 376.1 L830.0 376.2 L831.1 377.1 L832.2 377.0 L833.3 378.3 L834.4 378.5 L835.5 377.9 L836.7 377.2 L837.9 376.8 L839.0 376.2 L840.1 376.8 L841.1 376.3 L842.2 376.7 L843.6 377.0 L845.0 378.0 L846.5 379.2 L848.0 380.4 L849.1 379.0 L850.1 377.8 L851.2 377.0 L852.4 377.0 L853.7 377.2 L854.9 377.7 L856.2 378.1 L857.4 378.6 L858.5 378.6 L859.6 379.2 L860.7 379.0 L861.8 379.4 L862.9 379.6 L864.1 379.2 L865.2 379.2 L866.4 378.8 L867.6 378.9 L868.7 378.6 L869.9 378.9 L871.1 379.1 L872.2 378.8 L873.4 378.5 L874.6 378.7 L875.7 379.0 L876.9 378.6 L878.1 378.1 L879.2 378.6 L880.4 378.1 L881.6 378.1 L882.7 378.2 L883.9 377.8 L885.1 377.5 L886.2 377.5 L887.4 377.5 L888.6 377.6 L889.7 376.8 L890.9 376.8 L892.1 377.1 L893.2 376.9 L894.4 376.8 L895.6 376.6 L896.7 376.5 L897.9 376.6 L899.1 376.2 L900.2 376.3 L901.4 376.2 L902.6 376.8 L903.7 376.4 L904.9 376.6 L906.0 376.6 L907.0 376.9 L908.0 377.9 L909.1 377.9 L910.3 378.1 L911.5 377.8 L912.7 377.3 L913.9 377.4 L914.6 375.5 L915.3 374.0 L916.1 372.3 L917.0 371.0 L917.8 370.2 L918.5 369.5 L919.5 368.4 L920.5 368.0 L921.4 367.0 L922.3 366.0 L923.2 365.1 L924.1 364.6 L924.9 366.6 L925.6 367.7 L926.8 374.0 L928.5 378.5 L929.8 379.7 L931.0 380.0 L932.1 380.3 L933.3 380.3 L934.5 381.2 L935.6 381.0 L936.7 380.7 L937.8 380.7 L939.0 380.3 L940.1 380.5 L941.2 380.5 L942.4 379.6 L943.5 378.7 L944.7 377.8 L945.8 378.5 L946.8 379.8 L948.0 380.5 L949.2 381.2 L950.7 379.1 L952.2 377.8 L953.4 377.1 L954.5 376.8 L956.0 370.1 L957.1 368.2 L958.3 367.1 L959.2 365.5 L960.2 364.1 L961.3 358.0 L962.5 344.5 L963.5 358.0 L964.3 377.6 L965.0 389.6 L966.5 394.9 L967.6 395.4 L968.8 396.8 L970.1 396.7 L971.3 397.4 L972.6 397.9 L973.8 397.6 L975.1 397.8 L976.3 397.7 L977.5 397.8 L978.8 397.6 L980.0 397.4 L981.3 397.6 L982.5 397.7 L983.8 397.3 L985.1 397.2 L986.3 397.8 L987.6 397.4 L988.8 397.1 L990.0 397.6 L991.2 397.5 L992.4 397.0 L993.6 397.4 L995.1 397.0 L996.6 395.9 L998.1 396.3 L999.6 395.9 L1000.8 395.1 L1001.9 394.1 L1003.0 395.1 L1004.1 395.6 L1005.2 397.8 L1006.4 399.4 L1007.5 398.7 L1008.6 398.6 L1009.8 397.1 L1010.9 395.6 L1012.0 394.5 L1013.2 393.4 L1014.7 393.0 L1016.2 391.9 L1018.0 384.4 L1018.9 394.1 L1019.5 403.2" fill="none" stroke="#000" stroke-width="3" stroke-linejoin="round" stroke-linecap="round"/>
<path d="M92.8 185.5 L93.7 186.1 L94.6 188.0 L95.5 186.0 L96.3 185.7 L97.2 185.5 L98.0 183.1 L98.8 184.1 L99.6 183.3 L100.4 182.7 L101.2 179.3 L102.0 179.9 L102.8 178.7 L103.6 181.7 L104.4 182.5 L105.2 180.9 L106.3 185.2 L107.4 185.1 L108.2 182.6 L109.0 181.4 L109.8 178.2 L110.6 176.5 L111.5 179.7 L112.4 178.5 L113.3 180.0 L114.2 178.1 L115.1 175.0 L116.0 174.8 L117.0 176.3 L118.1 179.8 L119.0 177.7 L119.8 177.8 L120.7 176.6 L121.5 176.8 L122.4 175.3 L123.3 174.8 L124.2 178.5 L125.1 178.9 L125.9 177.2 L126.7 175.7 L127.5 172.9 L128.3 171.6 L129.2 172.0 L130.1 171.2 L131.0 174.5 L131.8 172.0 L132.6 173.3 L133.4 170.4 L134.2 172.2 L135.1 172.4 L136.0 169.3 L136.9 171.0 L137.8 172.6 L138.7 168.9 L139.6 169.6 L140.7 166.4 L141.8 164.3 L142.9 167.7 L143.9 169.3 L144.8 166.4 L145.7 165.0 L146.6 165.5 L147.4 170.1 L148.2 170.8 L149.3 165.9 L150.4 164.6 L151.3 163.1 L152.1 162.0 L153.0 164.5 L153.8 163.0 L154.7 166.1 L155.8 163.7 L156.8 160.6 L157.9 162.6 M160.0 151.8 L160.8 153.2 L161.6 149.7 L162.4 150.1 L163.2 148.2 L164.5 146.9 L165.2 150.1 L166.0 149.2 L166.8 146.9 L167.5 149.6 L168.3 146.0 L169.0 148.0 M172.4 168.2 L173.2 167.0 L174.0 164.2 L174.8 168.3 L175.6 164.7 L176.7 161.7 L177.8 163.0 L178.8 159.8 L179.6 159.7 L180.4 158.6 L181.5 157.7 M184.2 168.6 L185.0 165.7 L185.8 166.0 L186.9 165.7 M189.0 170.1 L189.8 170.8 L190.6 167.0 L191.4 165.8 L192.3 165.6 L193.1 162.4 M200.3 163.1 L201.4 164.6 M204.1 169.7 L204.9 170.8 L205.7 174.6 L206.5 175.8 L207.3 172.7 L208.1 177.8 L208.9 179.1 L209.8 177.9 L210.7 177.3 L211.6 176.0 L212.4 175.6 L213.2 179.7 L214.0 176.2 L214.8 178.2 L215.9 175.4 L217.0 177.2 L218.1 176.7 L219.1 175.8 L220.0 174.8 L220.9 176.7 L221.8 173.2 L222.7 173.6 L223.6 174.7 L224.5 175.7 L225.6 176.7 L226.6 172.8 L227.7 173.3 L228.8 170.3 L229.9 169.7 L230.9 170.0 L232.0 170.1 L233.1 167.2 L234.2 166.7 L235.2 167.3 L236.3 167.9 L237.3 165.5 L238.3 166.2 L239.3 168.2 L240.4 168.9 L241.5 167.6 L242.6 166.7 L243.6 165.2 L244.7 162.6 L245.8 161.6 L246.6 162.3 L247.4 167.2 L248.4 164.4 L249.5 163.7 L250.4 158.1 L251.3 159.7 L252.2 157.7 L253.0 160.2 L253.8 159.7 L254.9 162.0 L256.0 156.9 L256.8 160.7 M259.2 156.2 L260.2 157.5 L261.3 157.3 L262.1 156.0 L263.0 155.3 L264.1 157.3 L265.1 156.0 L266.2 158.9 L267.3 161.2 L268.1 161.9 L268.9 160.6 L269.7 163.1 L270.5 164.3 L271.2 163.9 M273.5 147.6 L274.4 144.6 M303.2 239.4 L304.1 238.4 L304.9 241.2 L305.8 243.3 L306.8 243.0 L307.8 242.7 L308.7 241.7 L309.7 243.0 L310.5 242.0 L311.3 241.0 L312.1 241.9 L312.9 238.9 L313.8 240.7 L314.6 237.8 L315.5 239.3 L316.3 238.3 L317.1 236.8 L317.9 237.7 L318.7 236.4 L319.6 236.4 L320.4 237.0 L321.3 234.3 L322.2 232.8 L323.0 233.2 L323.9 233.8 L324.9 232.8 L325.8 233.4 L326.8 236.8 L327.7 236.9 L328.7 234.9 L329.7 235.1 L330.6 232.3 L331.6 232.5 L332.9 229.6 L333.9 231.3 L334.8 233.5 L335.8 234.6 L336.8 235.1 L337.7 234.3 L338.5 235.8 L339.4 235.8 L340.2 235.2 L341.1 236.4 L341.9 237.5 L342.8 237.3 L343.6 236.5 L344.5 237.0 L345.4 234.6 L346.2 234.1 L347.1 234.9 L347.9 234.2 L348.7 233.8 L349.5 234.4 L350.3 234.9 L351.2 233.8 L352.0 232.5 L352.9 233.7 L353.8 233.1 L354.6 230.2 L355.5 227.9 L356.4 226.0 L357.2 227.2 L358.1 222.6 L358.9 223.2 L359.8 221.0 L360.6 218.4 L361.6 219.3 L362.6 216.1 L363.5 217.1 L364.3 218.9 L365.2 218.1 L366.0 221.8 L366.8 220.7 M372.9 252.8 L373.9 254.0 L374.8 257.4 L375.7 257.4 L376.7 258.6 M378.3 261.8 L379.4 261.7 L380.4 261.6 L381.3 261.5 L382.1 260.7 L383.0 262.5 L383.9 262.6 L384.9 263.1 L385.9 265.8 L386.8 267.7 L387.8 266.5 L388.7 267.5 L389.7 268.4 L390.6 270.2 L391.5 269.8 L392.4 270.4 L393.3 271.2 L394.2 270.2 L395.0 270.9 L395.8 270.6 L396.6 267.2 L397.6 270.2 L398.6 269.6 L399.6 267.7 L400.4 268.0 L401.1 267.8 L401.9 267.9 L402.8 266.6 L403.8 267.7 L404.7 269.3 L405.6 266.6 L406.5 266.8 L407.5 264.8 M408.9 260.8 L409.8 259.2 L410.8 260.9 L411.7 261.1 L412.4 259.1 M413.9 253.5 L414.7 250.1 L415.4 250.6 M422.2 254.6 L423.1 255.9 L424.0 255.6 M429.7 294.7 L430.6 294.0 L431.4 296.8 M433.5 301.4 L434.5 301.3 L435.5 302.0 L436.4 304.1 L437.2 305.3 L438.1 306.9 L439.1 306.9 L440.0 306.3 L441.3 310.9 L442.2 309.0 L443.0 312.2 L443.9 310.7 L444.7 311.4 L445.5 313.1 L446.3 311.0 L447.1 311.2 L448.1 312.5 L449.1 313.2 L450.0 313.6 L451.0 313.0 L451.8 313.3 L452.7 311.1 L453.5 312.0 L454.4 308.4 L455.2 308.2 L456.1 308.6 L457.1 306.5 L458.1 306.8 L459.1 306.5 L460.0 306.1 L460.9 307.5 L461.9 306.8 L462.8 306.4 L463.6 307.1 L464.5 309.1 L465.3 310.2 L466.1 308.9 L466.9 312.0 L467.7 313.4 L468.7 309.3 M476.8 261.7 L478.1 259.8 L479.1 262.5 L480.0 264.0 L480.9 265.4 M486.3 340.4 L487.5 346.6 L488.3 345.1 L489.2 344.8 L490.0 346.2 L491.0 345.3 L492.0 345.0 L493.0 345.6 L494.0 344.3 L495.0 346.6 L495.8 347.2 M499.5 365.1 L500.3 366.0 L501.1 364.9 L502.1 366.0 L503.0 365.2 L504.0 366.4 L505.0 367.9 L506.0 368.4 L506.9 366.3 L507.9 365.1 L508.9 364.2 L509.8 365.2 L510.8 366.4 L511.8 363.9 L512.7 366.3 L513.7 363.9 L514.7 364.6 L515.7 364.9 L516.6 366.6 L517.6 365.5 L518.6 365.3 L519.5 365.9 L520.5 363.8 L521.5 365.6 L522.3 363.8 L523.2 365.4 L524.0 364.9 L525.0 364.5 L526.0 365.6 L526.9 365.1 L527.9 364.8 L528.8 364.6 L529.6 364.7 L530.5 363.2 L531.4 363.1 L532.2 364.2 L533.1 364.0 L534.0 363.9 L535.0 365.3 L536.0 364.9 L536.9 366.0 L537.9 363.9 L538.8 365.6 L539.8 365.9 L540.8 366.2 L541.8 364.2 L542.8 364.2 L543.7 366.2 L544.7 363.8 L545.5 366.5 L546.3 366.2 L547.2 363.7 L548.0 364.1 M549.8 361.3 L551.0 358.7 L551.8 358.2 L552.5 360.7 L553.3 359.3 L554.1 361.4 L555.0 359.9 L555.9 362.1 L556.7 364.2 L557.6 363.2 L558.5 364.6 L559.3 367.2 L560.2 368.4 L561.0 369.4 L561.9 368.2 L562.7 370.0 L563.8 372.2 L564.8 373.2 L565.7 373.0 L566.5 371.2 L567.4 370.3 L568.2 368.4 M577.1 381.1 L578.1 381.4 L579.0 381.8 L580.0 381.1 L581.0 381.5 L581.9 381.7 L582.7 383.3 L583.5 383.8 L584.4 383.7 L585.2 381.8 L586.1 381.8 L587.0 383.9 L587.8 382.6 L588.7 383.2 L589.6 382.1 L590.4 382.3 L591.3 382.3 L592.3 382.0 L593.2 382.2 L594.2 380.6 L595.2 382.1 L596.2 382.1 L597.1 380.2 L598.0 380.5 L599.0 380.9 L599.9 380.1 L600.7 379.6 L601.6 379.5 L602.5 381.0 L603.3 380.5 L604.2 383.2 L605.2 383.2 L606.2 383.1 L607.1 383.6 L608.1 383.2 L609.0 382.6 L609.9 383.0 L610.8 382.7 L611.8 383.7 L612.7 383.2 L613.6 381.8 L614.5 383.3 L615.4 383.0 L616.4 383.1 L617.3 383.3 L618.2 382.4 L619.1 383.7 L620.1 383.7 L621.0 383.4 L621.9 383.4 L622.8 383.2 L623.7 382.1 L624.7 382.7 L625.6 380.9 L626.5 381.4 L627.4 381.5 L628.3 380.6 L629.3 381.5 L630.2 382.3 L631.2 382.4 L632.1 381.6 L633.1 383.4 L634.0 382.9 L634.9 381.8 L635.7 382.2 L636.6 381.7 L637.9 378.7 L639.0 381.5 L640.2 384.6 L641.0 382.8 L641.8 381.9 L642.6 381.1 M644.8 382.0 L645.6 381.7 L646.5 383.0 L647.4 383.2 L648.2 381.9 L649.1 382.2 L650.0 381.2 L650.9 381.6 L651.8 382.0 L652.7 381.3 L653.6 381.7 L654.5 383.2 L655.5 382.4 L656.4 382.3 L657.3 383.3 L658.2 382.4 L659.1 383.4 L660.0 382.5 L660.9 382.9 L661.8 381.1 L662.7 382.4 L663.6 382.7 L664.5 381.0 L665.5 383.1 L666.4 381.3 L667.3 382.0 L668.2 381.2 L669.1 382.0 L670.0 382.3 L670.9 380.9 L671.8 383.0 L672.7 381.7 L673.6 382.0 L674.5 382.1 L675.5 381.5 L676.4 381.3 L677.3 382.2 L678.2 381.9 L679.1 381.2 L680.0 382.2 L680.9 381.2 L681.8 380.5 L682.7 381.0 L683.6 380.5 L684.5 380.8 L685.5 382.2 L686.4 381.3 L687.3 382.5 L688.2 382.1 L689.1 380.4 L690.0 382.7 L690.9 382.3 L691.9 380.0 L692.8 381.8 L693.7 380.4 L694.6 380.3 L695.5 381.2 L696.5 379.2 L697.4 379.7 L698.3 381.3 L699.1 381.4 L700.0 381.4 L700.9 382.6 L701.8 382.2 L702.7 381.6 L703.7 380.4 L704.6 381.6 L705.5 381.1 L706.4 380.5 L707.3 380.1 L708.2 381.1 L709.1 380.1 L710.0 380.8 L711.0 381.3 L711.9 380.8 L712.8 380.3 L713.7 381.0 L714.6 380.7 L715.5 381.6 L716.4 381.0 L717.3 382.2 L718.2 382.1 L719.1 381.6 L720.0 380.5 L721.0 380.2 L721.9 382.2 L722.8 381.9 L723.7 381.6 L724.6 381.0 L725.5 380.9 L726.4 381.9 L727.3 381.7 L728.2 381.7 L729.1 381.7 L730.0 382.0 L731.0 380.6 L731.9 380.7 L732.8 382.4 L733.7 382.2 L734.6 382.0 L735.5 380.0 L736.4 380.0 L737.3 380.4 L738.3 380.8 L739.2 381.2 L740.1 379.9 L741.0 380.9 L741.9 379.7 L742.8 379.7 L743.7 381.1 L744.7 380.7 L745.6 380.9 L746.5 380.2 L747.4 380.4 L748.3 379.7 L749.2 380.0 L750.1 380.9 L751.0 381.1 L752.0 379.2 L752.9 379.3 L753.8 380.9 L754.7 380.4 L755.6 380.7 L756.5 379.3 L757.4 379.8 L758.4 379.4 L759.3 380.7 L760.2 379.6 L761.1 380.2 L762.0 381.0 L762.9 379.4 L763.8 379.9 L764.7 380.3 L765.7 380.7 L766.6 379.5 L767.5 379.3 L768.4 378.6 L769.3 380.4 L770.1 378.5 L771.0 378.4 L771.9 379.5 L772.8 379.3 L773.6 379.7 L774.5 378.7 L775.5 377.6 L776.6 373.6 L777.6 372.0 L778.6 371.2 L779.3 370.7 M781.4 378.3 L782.2 379.5 L783.1 379.6 L783.9 378.7 L784.8 378.5 L785.7 379.1 L786.6 380.0 L787.5 379.1 L788.4 378.5 L789.3 380.0 L790.2 379.7 L791.2 380.5 L792.1 380.6 L793.0 380.5 L793.9 379.4 L794.8 380.3 L795.7 379.1 L796.6 379.1 L797.5 379.3 L798.4 380.5 L799.4 380.4 L800.3 378.8 L801.2 379.1 L802.1 379.0 L803.0 379.0 L803.9 379.0 L804.8 379.0 L805.7 378.5 L806.7 379.4 L807.6 379.9 L808.5 379.2 L809.4 379.9 L810.3 379.2 L811.2 378.2 L812.1 379.5 L813.0 379.7 L813.9 378.1 L814.8 377.4 L815.7 378.5 L816.7 378.5 L817.6 378.5 L818.5 379.4 L819.4 378.5 L820.3 378.8 L821.2 376.9 L822.1 378.0 L823.0 378.5 L823.9 376.6 L824.8 376.4 L825.6 377.8 L826.5 378.0 L827.4 375.8 L828.2 376.9 L829.1 375.5 L830.0 376.8 L830.9 377.0 L831.8 376.5 L832.6 376.9 L833.5 378.7 L834.4 378.6 L835.3 378.7 L836.2 377.3 L837.2 376.7 L838.1 377.8 L839.0 376.6 L839.8 376.3 L840.6 376.5 L841.4 377.1 L842.2 377.2 L843.1 378.1 L844.1 377.4 L845.0 378.8 L846.0 379.2 L847.0 380.4 L848.0 381.1 L848.8 380.4 L849.6 379.6 L850.4 378.9 L851.2 377.3 L852.1 377.3 L853.0 378.0 L853.9 378.4 L854.7 377.7 L855.6 378.0 L856.5 377.5 L857.4 379.2 L858.3 379.9 L859.2 378.6 L860.1 378.3 L861.1 378.6 L862.0 379.3 L862.9 379.1 L863.8 380.6 L864.6 378.4 L865.5 378.9 L866.4 378.3 L867.3 379.5 L868.1 379.7 L869.0 378.2 L869.9 377.8 L870.8 378.8 L871.6 379.0 L872.5 379.8 L873.4 377.6 L874.3 377.8 L875.1 377.9 L876.0 378.0 L876.9 378.0 L877.8 379.0 L878.6 378.6 L879.5 377.6 L880.4 377.4 L881.3 377.6 L882.1 377.2 L883.0 378.5 L883.9 377.3 L884.8 377.8 L885.6 378.3 L886.5 377.4 L887.4 376.7 L888.3 378.1 L889.1 378.0 L890.0 376.5 L890.9 376.9 L891.8 377.9 L892.6 376.7 L893.5 376.1 L894.4 375.6 L895.3 377.7 L896.1 377.4 L897.0 376.3 L897.9 376.7 L898.8 376.6 L899.6 376.1 L900.5 377.8 L901.4 377.0 L902.3 376.0 L903.1 375.4 L904.0 376.5 L904.9 376.3 L905.7 377.6 L906.6 377.6 L907.4 377.6 L908.3 376.8 L909.1 377.1 L910.1 377.4 L911.0 377.1 L912.0 378.5 L912.9 377.5 L913.9 377.7 L914.6 376.9 L915.3 373.4 L916.1 372.6 L917.0 370.2 L917.8 370.9 L918.5 368.3 L919.5 369.5 L920.5 368.8 L921.4 367.8 L922.3 365.0 L923.2 364.7 L924.1 365.1 L924.9 365.2 M926.8 374.0 L927.6 376.2 L928.5 379.6 L929.3 379.2 L930.2 380.4 L931.0 379.5 L931.9 380.9 L932.8 380.2 L933.8 381.6 L934.7 379.8 L935.6 381.8 L936.5 380.2 L937.5 380.9 L938.4 380.8 L939.3 379.8 L940.3 381.4 L941.2 380.0 L942.1 379.4 L943.0 378.1 L943.8 378.0 L944.7 377.7 L945.8 379.3 L946.8 379.5 L947.6 380.7 L948.4 379.8 L949.2 380.9 L950.2 380.0 L951.2 380.1 L952.2 378.6 L953.0 377.8 L953.7 376.0 M956.0 369.8 L956.8 369.6 L957.5 367.5 L958.3 367.3 L959.2 365.5 M966.5 393.7 L967.3 396.7 L968.0 396.9 L968.8 396.1 L969.8 397.4 L970.7 396.8 L971.6 397.3 L972.6 398.0 L973.5 397.4 L974.5 397.4 L975.4 397.5 L976.3 398.1 L977.2 397.0 L978.1 396.8 L979.1 398.0 L980.0 397.0 L981.0 398.5 L981.9 397.6 L982.9 397.9 L983.8 397.0 L984.8 398.2 L985.7 396.4 L986.6 396.5 L987.6 396.4 L988.5 397.8 L989.3 397.9 L990.2 396.6 L991.0 397.2 L991.9 398.2 L992.7 397.6 L993.6 396.4 L994.6 396.2 L995.6 395.6 L996.6 395.0 L997.6 395.7 L998.6 394.9 L999.6 396.9 L1000.4 395.1 L1001.1 394.7 L1001.9 394.5 L1003.0 395.5 L1004.1 396.4 L1004.9 396.6 L1005.6 397.7 L1006.4 399.2 L1007.5 397.8 L1008.6 398.4 L1009.4 398.1 L1010.1 397.8 L1010.9 396.3 L1011.7 395.3 L1012.4 394.4 L1013.2 392.2 L1014.2 392.5 L1015.2 392.0" fill="none" stroke="#000" stroke-width="1.5" stroke-linejoin="round" stroke-linecap="round"/>
<text class="n" transform="translate(78.9,410.8) scale(1.04,1)" text-anchor="end">0</text>
<text class="n" transform="translate(78.9,348.7) scale(1.04,1)" text-anchor="end">20000</text>
<text class="n" transform="translate(78.9,286.5) scale(1.04,1)" text-anchor="end">40000</text>
<text class="n" transform="translate(78.9,224.4) scale(1.04,1)" text-anchor="end">60000</text>
<text class="n" transform="translate(78.9,162.2) scale(1.04,1)" text-anchor="end">80000</text>
<text class="n" transform="translate(78.9,100.1) scale(1.04,1)" text-anchor="end">100000</text>
<text class="n" transform="translate(78.9,37.9) scale(1.04,1)" text-anchor="end">120000</text>
<text class="n" transform="translate(92.4,431.8) scale(1.04,1)" text-anchor="middle">1100</text>
<text class="n" transform="translate(176.7,431.8) scale(1.04,1)" text-anchor="middle">1000</text>
<text class="n" transform="translate(261.1,431.8) scale(1.04,1)" text-anchor="middle">900</text>
<text class="n" transform="translate(345.4,431.8) scale(1.04,1)" text-anchor="middle">800</text>
<text class="n" transform="translate(429.8,431.8) scale(1.04,1)" text-anchor="middle">700</text>
<text class="n" transform="translate(514.1,431.8) scale(1.04,1)" text-anchor="middle">600</text>
<text class="n" transform="translate(598.5,431.8) scale(1.04,1)" text-anchor="middle">500</text>
<text class="n" transform="translate(682.8,431.8) scale(1.04,1)" text-anchor="middle">400</text>
<text class="n" transform="translate(767.2,431.8) scale(1.04,1)" text-anchor="middle">300</text>
<text class="n" transform="translate(851.5,431.8) scale(1.04,1)" text-anchor="middle">200</text>
<text class="n" transform="translate(935.9,431.8) scale(1.04,1)" text-anchor="middle">100</text>
<text class="n" transform="translate(1020.2,431.8) scale(1.04,1)" text-anchor="middle">0</text>
<text class="t" x="477" y="459.8">Binding Energy (eV)</text>
<text class="y" transform="translate(14,203.6) rotate(-90)" text-anchor="middle">c/s</text>
<text class="a" transform="translate(142.6,133.3) scale(1.09,1)">Ni2s</text>
<text class="a" transform="translate(175.1,120.6) scale(1.09,1)">O KLL</text>
<text class="a" transform="translate(223.0,94.3) scale(1.09,1)">Ni2p1</text>
<text class="a" transform="translate(235.2,65.0) scale(1.09,1)">Ni2p3</text>
<text class="a" transform="translate(283.2,38.5) scale(1.09,1)">Ni2p</text>
<text class="a" transform="translate(326.2,196.9) scale(1.09,1)">Ni LMM2</text>
<text class="a" transform="translate(387.9,222.3) scale(1.09,1)">Ni LMM1</text>
<text class="a" transform="translate(449.7,250.6) scale(1.09,1)">Ni LMM</text>
<text class="a" transform="translate(556.6,235.0) scale(1.09,1)">O1s</text>
<text class="a" transform="translate(589.4,350.6) scale(1.09,1)">ln3d3</text>
<text class="a" transform="translate(656.9,349.6) scale(1.09,1)">ln3d5</text>
<text class="a" transform="translate(764.3,354.8) scale(1.09,1)">C1s</text>
<text class="a" transform="translate(906.4,343.3) scale(1.09,1)">Ni3s</text>
<text class="a" transform="translate(948.0,315.3) scale(1.09,1)">Ni3p</text>
</svg>
</body></html>
